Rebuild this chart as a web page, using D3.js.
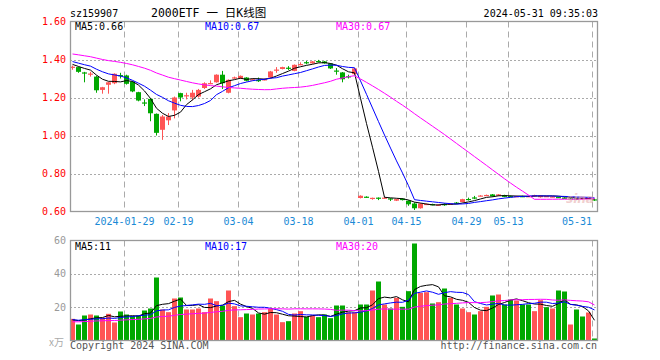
<!DOCTYPE html>
<html><head><meta charset="utf-8">
<script src="https://cdn.jsdelivr.net/npm/d3@7/dist/d3.min.js"></script>
<style>
html,body{margin:0;padding:0;background:#fff;}
text{font-family:"DejaVu Sans Mono","Liberation Mono",monospace;}
</style></head>
<body>
<svg id="chart" width="660" height="360"></svg>
<script>
// ---------- data ----------
const titleCode = "sz159907";
const titleName = "2000ETF 一 日K线图";
const stamp = "2024-05-31 09:35:03";
const tickIndex = [9, 18, 28, 38, 48, 56, 66, 73, 87];
const tickLabels = ["2024-01-29","02-19","03-04","03-18","04-01","04-15","04-29","05-13","05-31"];
const priceTicks = [1.60, 1.40, 1.20, 1.00, 0.80, 0.60];
const volTicks = [60, 40, 20];
const priceLegend = ["MA5:0.66", "MA10:0.67", "MA30:0.67"];
const volLegend = ["MA5:11", "MA10:17", "MA30:20"];

const priorCloses = [1.47,1.48,1.47,1.46,1.47,1.46,1.45,1.46,1.45,1.44,1.45,1.44,1.45,1.44,1.43,1.44,1.43,1.42,1.43,1.44,
  1.42,1.41,1.40,1.40,1.39,1.39,1.38,1.37,1.37];
const opens = [1.358,1.36,1.332,1.322,1.31,1.24,1.267,1.275,1.318,1.316,
  1.284,1.228,1.174,1.193,1.114,1.03,1.08,1.132,1.223,1.208,
  1.2,1.205,1.25,1.273,1.28,1.32,1.225,1.303,1.30,1.305,
  1.293,1.292,1.293,1.305,1.344,1.35,1.357,1.34,1.373,1.386,
  1.38,1.392,1.39,1.379,1.342,1.332,1.312,1.323,
  0.671,0.678,0.670,0.673,0.671,0.669,0.657,0.668,0.657,0.642,
  0.617,0.636,0.639,0.634,0.639,0.639,0.647,0.65,0.666,0.674,
  0.682,0.685,0.69,0.683,0.686,0.681,0.679,0.681,0.679,0.68,
  0.675,0.679,0.677,0.676,0.673,0.669,0.668,0.665,0.669,0.664];
const closes = [1.362,1.335,1.328,1.326,1.238,1.254,1.28,1.325,1.314,1.272,
  1.232,1.184,1.17,1.117,1.014,1.10,1.10,1.2,1.2,1.212,
  1.225,1.24,1.275,1.276,1.32,1.275,1.293,1.306,1.314,1.288,
  1.296,1.29,1.296,1.337,1.347,1.36,1.354,1.372,1.376,1.383,
  1.39,1.389,1.38,1.353,1.339,1.296,1.308,1.353,
  0.683,0.676,0.672,0.671,0.673,0.667,0.665,0.66,0.638,0.617,
  0.642,0.64,0.637,0.636,0.637,0.641,0.645,0.665,0.664,0.672,
  0.684,0.687,0.68,0.69,0.677,0.679,0.681,0.679,0.681,0.686,
  0.683,0.681,0.679,0.674,0.670,0.667,0.662,0.672,0.671,0.658];
const highs = [1.368,1.362,1.335,1.335,1.315,1.256,1.282,1.327,1.33,1.32,
  1.286,1.23,1.19,1.195,1.116,1.108,1.118,1.205,1.225,1.225,
  1.24,1.245,1.28,1.29,1.322,1.34,1.295,1.31,1.316,1.307,
  1.30,1.305,1.30,1.34,1.36,1.362,1.365,1.374,1.385,1.392,
  1.392,1.398,1.392,1.38,1.355,1.334,1.32,1.355,
  0.685,0.68,0.673,0.674,0.675,0.67,0.667,0.67,0.659,0.648,
  0.644,0.642,0.641,0.638,0.643,0.643,0.65,0.667,0.673,0.682,
  0.686,0.689,0.692,0.692,0.688,0.684,0.683,0.683,0.683,0.688,
  0.685,0.683,0.681,0.678,0.675,0.671,0.67,0.674,0.673,0.666];
const lows = [1.346,1.33,1.28,1.31,1.225,1.22,1.22,1.27,1.30,1.268,
  1.228,1.18,1.155,1.075,1.0,0.977,1.055,1.09,1.18,1.19,
  1.185,1.2,1.245,1.27,1.278,1.245,1.222,1.298,1.298,1.285,
  1.29,1.282,1.29,1.303,1.33,1.348,1.345,1.338,1.37,1.375,
  1.378,1.385,1.378,1.35,1.32,1.28,1.30,1.32,
  0.669,0.672,0.662,0.66,0.668,0.655,0.655,0.658,0.63,0.608,
  0.615,0.634,0.633,0.632,0.63,0.636,0.64,0.648,0.658,0.665,
  0.68,0.683,0.678,0.681,0.675,0.676,0.677,0.676,0.677,0.678,
  0.673,0.677,0.675,0.671,0.668,0.664,0.66,0.663,0.667,0.656];

const priorVolumes = [10,11,10,9,11,12,10,11,10,9,11,10,11,12,10,11,10,11,12,11,13,12,13,12,13,12,13,12,12];
const volumes = [13,9.6,15,15.6,15,13.6,16,10.8,17.4,15.6,
  14.6,15,18,19.2,37.8,18.6,17,25.2,25.8,18.6,
  18.6,19.2,17,25.2,23.6,21,30,20.6,14,16.2,
  15.6,16.2,17,19,15.6,11,11.6,16.2,17.6,14.2,
  15,14,15.6,13.4,21,21,17,17,21.6,21.6,
  30,35.4,21.6,19.2,25.6,20.2,29.6,58.2,28.6,29,
  22.2,23,31.2,25.6,21.6,19.2,17,15.6,17.6,20.2,
  27,27.6,21.6,24.6,24,21.6,21.6,17.6,24.2,20,
  19.2,30,29.4,9.6,18.6,14.4,16.8,1.2];
const volumeDirection = ("RGGRGRRRGG" + "GGGGGRRRGR" + "RRRRRGRRRG" + "RGRRRRGRRG" + "RGGGGGRRGG" +
  "RGRGRGGGRR" + "GRGRGRRGRR" + "GRGGRGGRRG" + "RGGRGGRG").split("");

// ---------- drawing ----------
const RED = "#ff5555", GREEN = "#00a800", GRID = "#aaaaaa", FRAME = "#999999";
const svg = d3.select("#chart");
const N = closes.length;
const L = 70, R = 598;
const x = d3.scaleBand().domain(d3.range(N)).range([L, R]).padding(0);
const yP = d3.scaleLinear().domain([0.6, 1.6]).range([211.5, 21.5]);
const yV = d3.scaleLinear().domain([0, 60]).range([340.5, 240.5]);

function movingAvg(prior, values, n) {
  const all = prior.concat(values);
  const off = prior.length;
  return values.map((_, i) => d3.mean(all.slice(off + i - n + 1, off + i + 1)));
}

// header
svg.append("text").attr("x", 70).attr("y", 17).attr("font-size", 10).attr("fill", "#000").text(titleCode);
svg.append("text").attr("x", 151).attr("y", 17).attr("font-size", 11.5).attr("fill", "#000")
  .style("font-family", "'DejaVu Sans Mono','Noto Sans CJK SC',monospace").text(titleName);
svg.append("text").attr("x", 598).attr("y", 17).attr("font-size", 10).attr("text-anchor", "end").attr("fill", "#000").text(stamp);

function panel(top, bottom, yScale, hTicks) {
  const g = svg.append("g");
  g.selectAll(".hg").data(hTicks).enter().append("line")
    .attr("x1", L).attr("x2", R).attr("y1", d => Math.round(yScale(d)) + 0.5).attr("y2", d => Math.round(yScale(d)) + 0.5)
    .attr("stroke", GRID).attr("stroke-dasharray", "2,2");
  g.selectAll(".vg").data(tickIndex).enter().append("line")
    .attr("x1", d => x(d) + 0.5).attr("x2", d => x(d) + 0.5).attr("y1", top).attr("y2", bottom)
    .attr("stroke", GRID).attr("stroke-dasharray", "6,4");
  return g;
}
panel(21.5, 211.5, yP, [1.4, 1.2, 1.0, 0.8]);
panel(240.5, 340.5, yV, [40, 20]);

// clip paths
const defs = svg.append("defs");
defs.append("clipPath").attr("id", "cp").append("rect").attr("x", L).attr("y", 21).attr("width", R - L).attr("height", 191);
defs.append("clipPath").attr("id", "cv").append("rect").attr("x", L).attr("y", 240).attr("width", R - L).attr("height", 101);

// candles
const cg = svg.append("g").attr("clip-path", "url(#cp)");
const idx = d3.range(N);
cg.selectAll(".wick").data(idx).enter().append("line")
  .attr("x1", i => x(i) + 2.5).attr("x2", i => x(i) + 2.5)
  .attr("y1", i => yP(highs[i])).attr("y2", i => yP(lows[i]))
  .attr("stroke", i => closes[i] >= opens[i] ? RED : GREEN).attr("stroke-width", 1);
cg.selectAll(".body").data(idx).enter().append("rect")
  .attr("x", i => x(i)).attr("width", 5)
  .attr("y", i => Math.min(yP(opens[i]), yP(closes[i])))
  .attr("height", i => Math.max(1.2, Math.abs(yP(opens[i]) - yP(closes[i]))))
  .attr("fill", i => closes[i] >= opens[i] ? RED : GREEN);

// price MAs
const maColors = ["#000000", "#0000ff", "#ff00ff"];
[5, 10, 30].forEach((n, k) => {
  const m = movingAvg(priorCloses, closes, n);
  cg.append("path").datum(m)
    .attr("d", d3.line().x((d, i) => x(i) + 2.5).y(d => yP(d)))
    .attr("fill", "none").attr("stroke", maColors[k]).attr("stroke-width", 1);
});

// volume bars
const vg = svg.append("g").attr("clip-path", "url(#cv)");
vg.selectAll(".vb").data(idx).enter().append("rect")
  .attr("x", i => x(i)).attr("width", 5)
  .attr("y", i => yV(volumes[i])).attr("height", i => yV(0) - yV(volumes[i]) + 0.5)
  .attr("fill", i => volumeDirection[i] === "R" ? RED : GREEN);
[5, 10, 30].forEach((n, k) => {
  const m = movingAvg(priorVolumes, volumes, n);
  vg.append("path").datum(m)
    .attr("d", d3.line().x((d, i) => x(i) + 2.5).y(d => yV(d)))
    .attr("fill", "none").attr("stroke", maColors[k]).attr("stroke-width", 1);
});

// frames
svg.append("rect").attr("x", L + 0.5).attr("y", 21.5).attr("width", R - L - 1).attr("height", 190)
  .attr("fill", "none").attr("stroke", FRAME).attr("stroke-width", 1.3);
svg.append("rect").attr("x", L + 0.5).attr("y", 240.5).attr("width", R - L - 1).attr("height", 100)
  .attr("fill", "none").attr("stroke", FRAME).attr("stroke-width", 1.3);

// axis labels
svg.selectAll(".pl").data(priceTicks).enter().append("text")
  .attr("x", 66).attr("y", d => yP(d) + 3.5).attr("text-anchor", "end").attr("font-size", 10)
  .attr("fill", "#ff0000").text(d => d.toFixed(2));
svg.selectAll(".vl").data(volTicks).enter().append("text")
  .attr("x", 66).attr("y", d => yV(d) + 3.5).attr("text-anchor", "end").attr("font-size", 10)
  .attr("fill", "#999999").text(d => d);
svg.append("text").attr("x", 64).attr("y", 346).attr("text-anchor", "end").attr("font-size", 10)
  .attr("fill", "#aaaaaa").style("font-family", "'Noto Sans CJK SC',sans-serif").text("x万");

// date labels
svg.selectAll(".dl").data(tickIndex).enter().append("text")
  .attr("x", (d, k) => x(d) + (k === tickIndex.length - 1 ? 0 : 0.5))
  .attr("y", 225).attr("font-size", 10)
  .attr("text-anchor", (d, k) => k === tickIndex.length - 1 ? "end" : "middle")
  .attr("fill", "#1a8ad6").text((d, k) => tickLabels[k]);

// legends
const legendX = [75, 205, 336];
priceLegend.forEach((t, k) => svg.append("text").attr("x", legendX[k]).attr("y", 30).attr("font-size", 10)
  .attr("fill", maColors[k]).text(t));
volLegend.forEach((t, k) => svg.append("text").attr("x", legendX[k]).attr("y", 250).attr("font-size", 10)
  .attr("fill", maColors[k]).text(t));

// footer
svg.append("text").attr("x", 70).attr("y", 349).attr("font-size", 10).attr("fill", "#555").text("Copyright 2024 SINA.COM");
svg.append("text").attr("x", 597).attr("y", 349).attr("font-size", 10).attr("text-anchor", "end").attr("fill", "#555").text("http://finance.sina.com.cn");

// faint watermark
svg.append("text").attr("x", 580).attr("y", 203).attr("font-size", 12).attr("font-style", "italic").attr("font-weight", "bold")
  .attr("text-anchor", "middle").attr("fill", "#e8b0b0").attr("opacity", 0.6).style("font-family", "'DejaVu Sans',sans-serif").text("sina");
</script>
</body></html>
